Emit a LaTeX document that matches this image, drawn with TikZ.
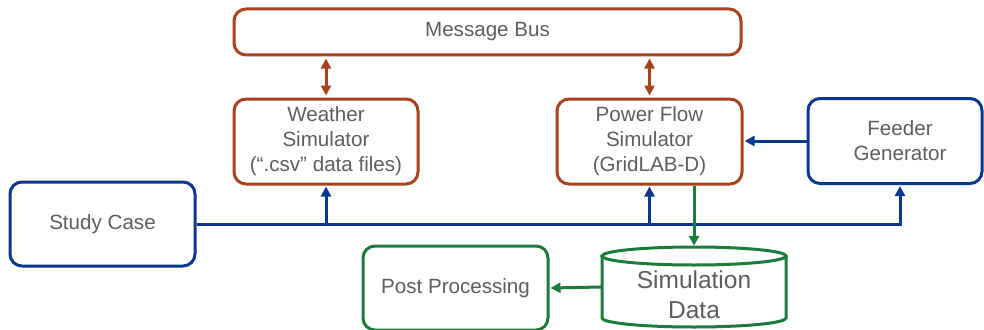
\documentclass[tikz,border=0pt]{standalone}
\usepackage{fontspec}
\setmainfont{Liberation Sans}
\usetikzlibrary{arrows.meta,calc}
\definecolor{busred}{HTML}{A8421F}
\definecolor{ctrlblue}{HTML}{0B388F}
\definecolor{datagreen}{HTML}{1B7D3C}
\definecolor{txtgray}{HTML}{5E5E5E}
\tikzset{
  box/.style={draw, line width=3pt, rounded corners=12pt, fill=white,
    text=txtgray, font=\fontsize{20.6}{25}\selectfont, align=center,
    inner sep=0pt},
  redbox/.style={box, draw=busred},
  bluebox/.style={box, draw=ctrlblue},
  greenbox/.style={box, draw=datagreen},
  tip/.style={-{Triangle[length=10pt,width=10pt]}, shorten >=1pt},
  dtip/.style={{Triangle[length=10pt,width=10pt]}-{Triangle[length=10pt,width=10pt]},
    shorten >=2pt, shorten <=2pt},
  wire/.style={line width=3pt},
}
\begin{document}
\begin{tikzpicture}[x=1pt,y=-1pt]
\useasboundingbox (0,0) rectangle (984,329);
\clip (0,0) rectangle (984,329);

% blocks
\node[redbox, minimum width=507pt, minimum height=46pt] (bus) at (487.5,32) {Message Bus};
\node[redbox, minimum width=184pt, minimum height=85pt] (weather) at (326,141.5) {Weather\\Simulator\\(“.csv” data files)};
\node[redbox, minimum width=185pt, minimum height=85pt] (power) at (649.5,141.5) {Power Flow\\Simulator\\(GridLAB-D)};
\node[bluebox, minimum width=174pt, minimum height=85pt] (feeder) at (895,141) {\hspace*{10pt}Feeder\\\hspace*{10pt}Generator};
\node[bluebox, minimum width=185pt, minimum height=84pt] (study) at (102.5,224) {Study Case};
\node[greenbox, minimum width=185pt, minimum height=84pt] (post) at (455.5,288) {Post Processing};

% data store drawn as a cylinder around an invisible body node
\node[minimum width=184pt, minimum height=80pt, inner sep=0pt] (simdata) at (694,287) {};
\fill[white] (602,256) -- (602,318) arc[start angle=180,end angle=360,x radius=92pt,y radius=9pt]
  -- (786,256) arc[start angle=0,end angle=180,x radius=92pt,y radius=9pt] -- cycle;
\draw[datagreen, wire] (602,256) -- (602,318) arc[start angle=180,end angle=360,x radius=92pt,y radius=9pt] -- (786,256);
\draw[datagreen, wire] (694,256) ellipse[x radius=92pt, y radius=9pt];
\node[text=txtgray, font=\fontsize{24.5}{30}\selectfont, align=center] at (694,295) {Simulation\\Data};

% message bus links
\draw[busred, wire, dtip] (bus.south -| weather.north) -- (weather.north);
\draw[busred, wire, dtip] (bus.south -| power.north) -- (power.north);

% study case distribution line
\coordinate (feedin) at ($(feeder.south)+(5,0)$);
\draw[ctrlblue, wire, tip] (study.east) -| (feedin);
\draw[ctrlblue, wire, tip] (study.east -| weather.south) -- (weather.south);
\draw[ctrlblue, wire, tip] (study.east -| power.south) -- (power.south);
\draw[ctrlblue, wire, tip] (feeder.west) -- (feeder.west -| power.east);

% simulation output
\draw[datagreen, wire, tip] (power.south -| simdata.north) -- (simdata.north);
\draw[datagreen, wire, tip] (simdata.west) -- (post.east);
\end{tikzpicture}
\end{document}
